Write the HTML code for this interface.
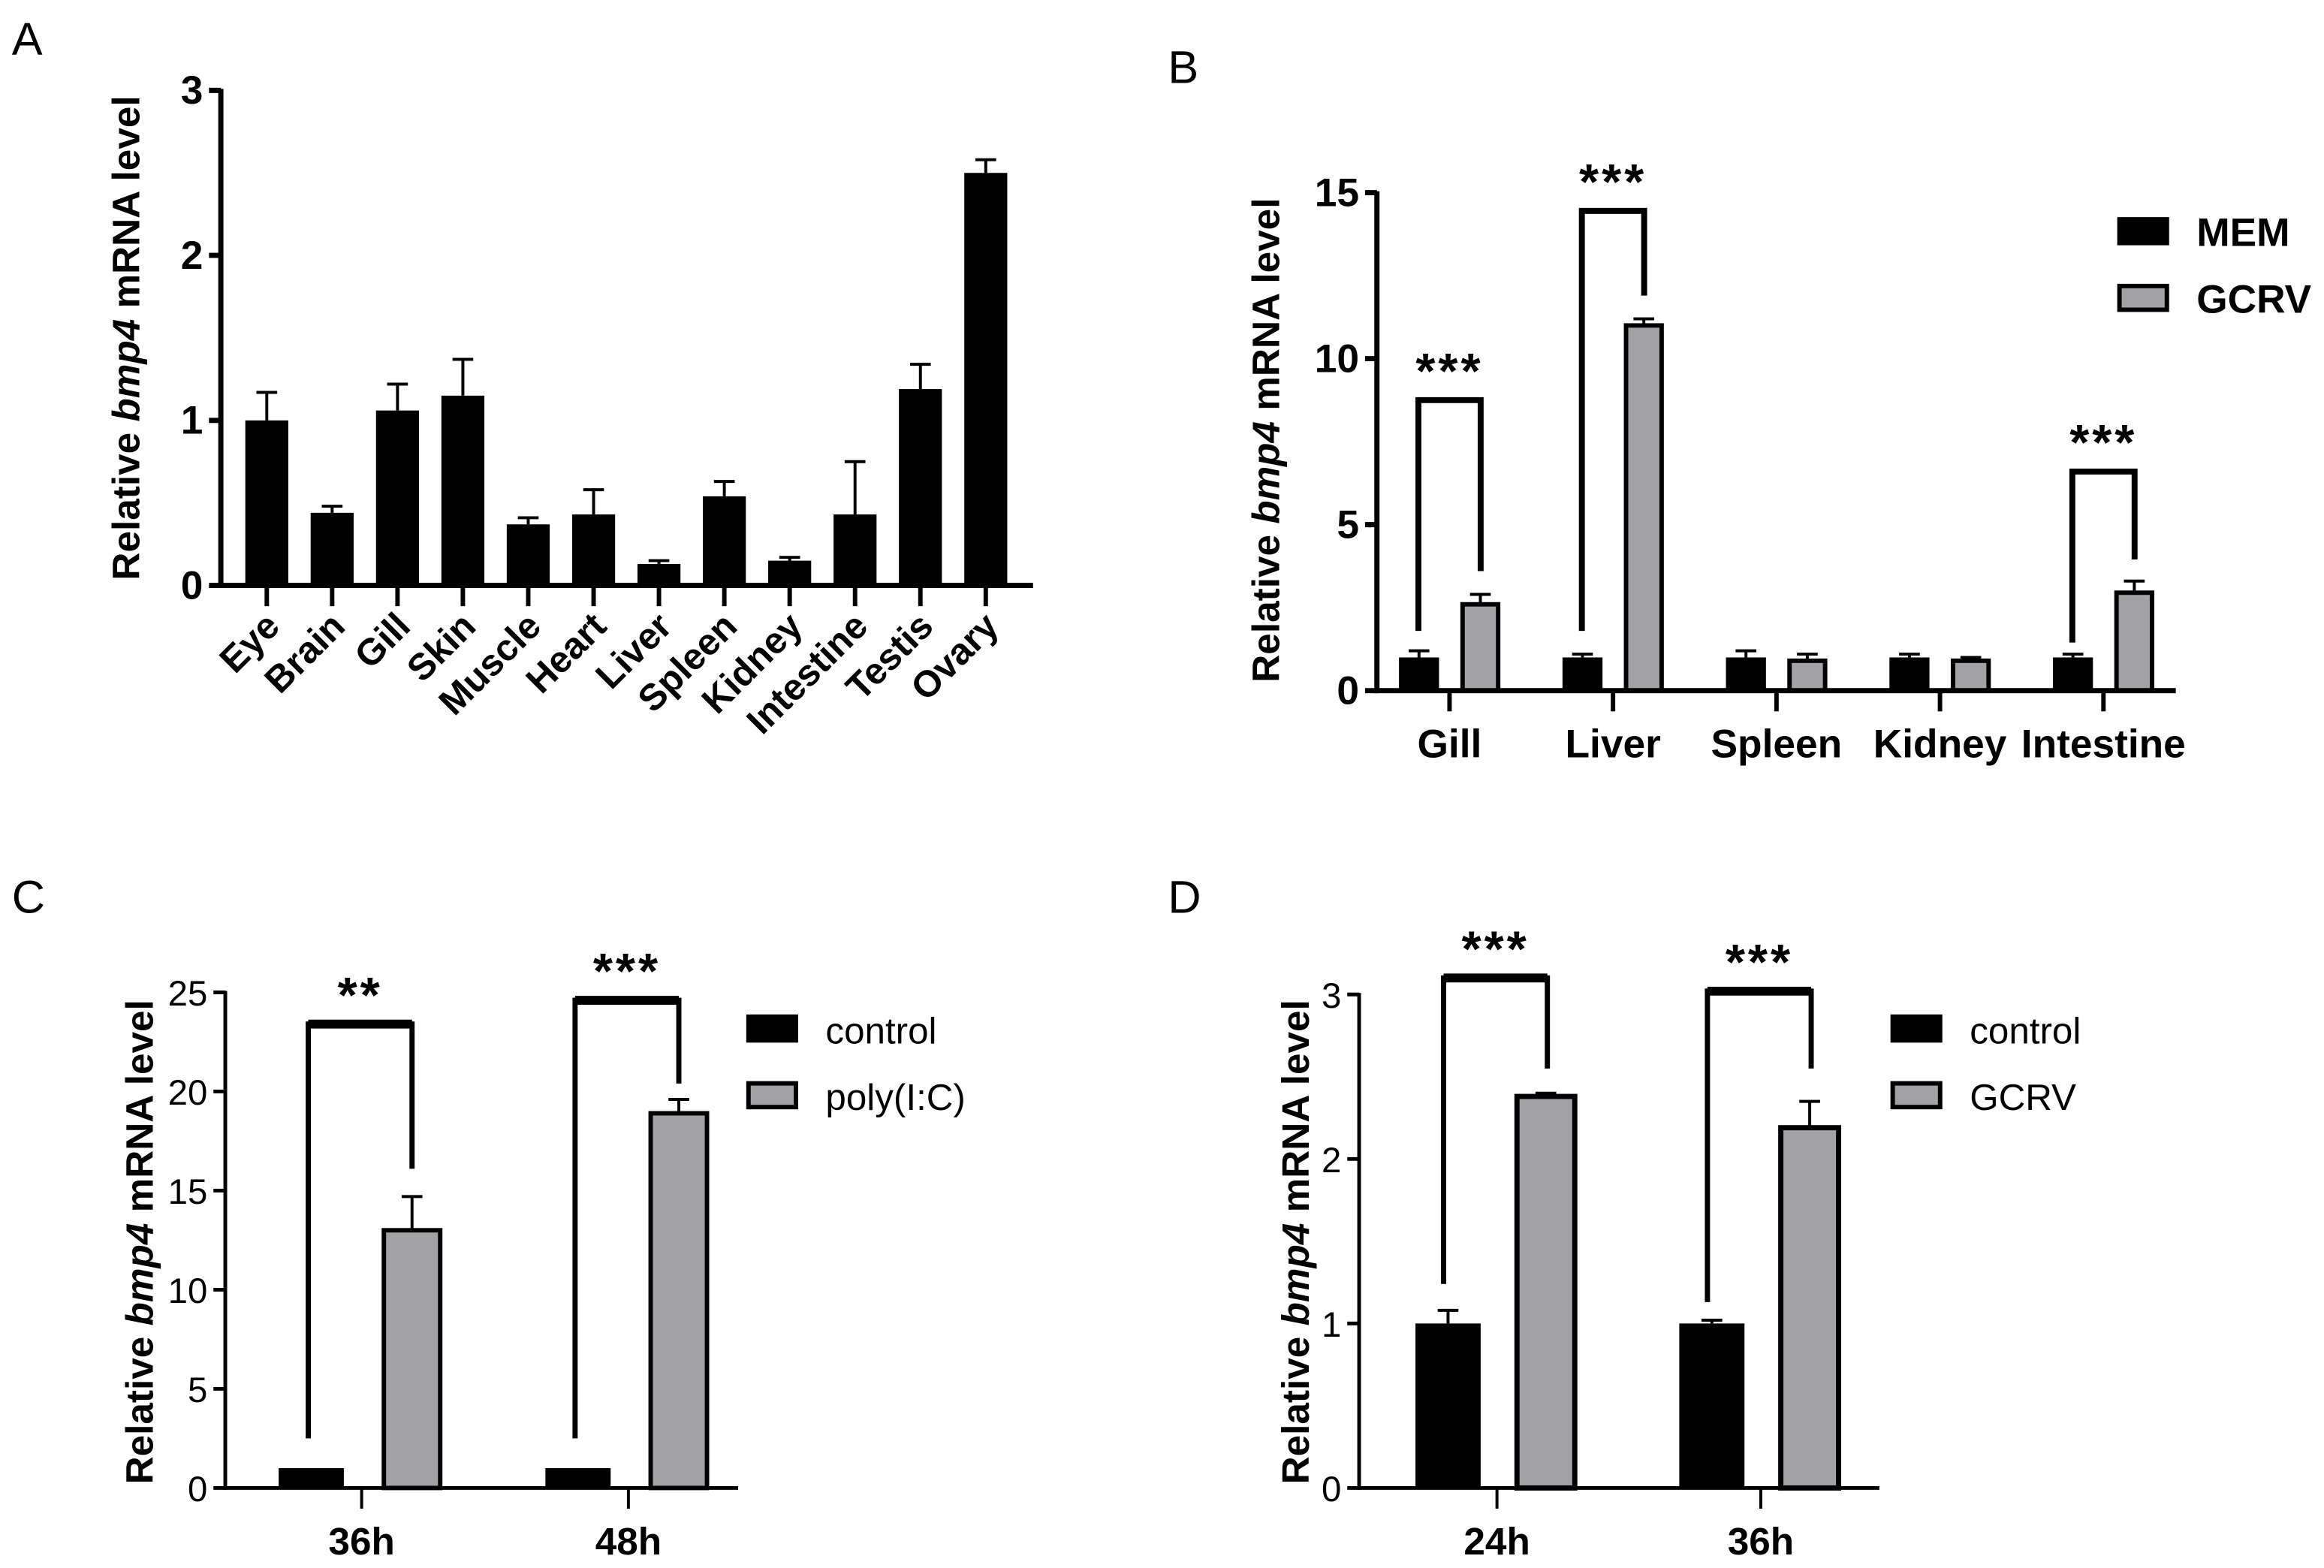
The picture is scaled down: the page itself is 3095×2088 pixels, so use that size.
<!DOCTYPE html>
<html><head><meta charset="utf-8"><style>
html,body{margin:0;padding:0;background:#fff;}
svg{display:block;font-family:"Liberation Sans",Arial,sans-serif;}
</style></head><body>
<svg id="fig" width="3095" height="2088" viewBox="0 0 1568 1058" preserveAspectRatio="none" xmlns="http://www.w3.org/2000/svg">
<text x="8" y="37" font-size="31">A</text>
<text x="788" y="56" font-size="31">B</text>
<text x="8" y="616" font-size="31">C</text>
<text x="788" y="616" font-size="31">D</text>
</svg>
<script>
// Panel A data
const aCategories=["Eye","Brain","Gill","Skin","Muscle","Heart","Liver","Spleen","Kidney","Intestine","Testis","Ovary"];
const aValues=[1.0,0.44,1.06,1.15,0.37,0.43,0.13,0.54,0.15,0.43,1.19,2.5];
const aErrors=[1.17,0.48,1.22,1.37,0.41,0.58,0.15,0.63,0.17,0.75,1.34,2.58];
const aTicks=[0,1,2,3];
// Panel B data
const bCategories=["Gill","Liver","Spleen","Kidney","Intestine"];
const bMem=[1.0,1.0,1.0,1.0,1.0];
const bMemErr=[1.2,1.1,1.2,1.1,1.1];
const bGcrv=[2.6,11.0,0.9,0.9,2.95];
const bGcrvErr=[2.9,11.2,1.1,1.0,3.3];
const bTicks=[0,5,10,15];
const bBracketGroups=[0,1,4];
const bBracketTop=[8.75,14.45,6.6];
const bBracketLeft=[1.8,1.8,1.45];
const bBracketRight=[3.6,11.9,3.95];
const bStars=["***","***","***"];
// Panel C data
const cCategories=["36h","48h"];
const cControl=[1.0,1.0];
const cControlErr=[1.0,1.0];
const cPoly=[13.0,18.9];
const cPolyErr=[14.7,19.6];
const cTicks=[0,5,10,15,20,25];
const cBracketTop=[23.4,24.6];
const cBracketLeft=[2.5,2.5];
const cBracketRight=[16.1,20.4];
const cStars=["**","***"];
// Panel D data
const dCategories=["24h","36h"];
const dControl=[1.0,1.0];
const dControlErr=[1.08,1.02];
const dGcrv=[2.38,2.19];
const dGcrvErr=[2.40,2.35];
const dTicks=[0,1,2,3];
const dBracketTop=[3.1,3.02];
const dBracketLeft=[1.24,1.13];
const dBracketRight=[2.55,2.55];
const dStars=["***","***"];

const svg=document.getElementById('fig');
const NS="http://www.w3.org/2000/svg";
function mk(tag,attrs,parent){const e=document.createElementNS(NS,tag);for(const k in attrs)e.setAttribute(k,attrs[k]);(parent||svg).appendChild(e);return e;}
function grp(name){const g=mk('g',{});


return g;}

function axes(g,o,ticks,y,opts){
  const ya=mk('line',{x1:o.x0,y1:y(ticks[ticks.length-1])-1,x2:o.x0,y2:o.y0+opts.aw/2,stroke:'#000','stroke-width':opts.aw},g);
  
  
  const xa=mk('line',{x1:o.x0-opts.aw/2,y1:o.y0,x2:o.x1,y2:o.y0,stroke:'#000','stroke-width':opts.aw},g);
  
  
  ticks.forEach(t=>{
    mk('line',{x1:o.x0-8,y1:y(t),x2:o.x0,y2:y(t),stroke:'#000','stroke-width':opts.aw},g);
    const tx=mk('text',{x:o.x0-12,y:y(t)+9,'font-size':opts.tfs,'font-weight':opts.tfw,'text-anchor':'end'},g);
    tx.textContent=t;
    
    
  });
  const tt=mk('text',{transform:`translate(${opts.tx},${opts.ty}) rotate(-90)`,'font-size':opts.tsz,'font-weight':'bold','text-anchor':'middle'},g);
  tt.innerHTML='Relative <tspan font-style="italic">bmp4</tspan> mRNA level';
  
  
}
function bar(g,cx,w,y0,yv,fill,sw,name){
  const r=mk('rect',{x:cx-w/2,y:Math.min(yv,y0),width:w,height:Math.abs(y0-yv),fill:fill,stroke:'#000','stroke-width':sw},g);
  
  
}
function err(g,cx,yv,ye,cap,sw){
  mk('line',{x1:cx,y1:yv,x2:cx,y2:ye,stroke:'#000','stroke-width':sw},g);
  mk('line',{x1:cx-cap,y1:ye,x2:cx+cap,y2:ye,stroke:'#000','stroke-width':sw},g);
}
function bracket(g,xl,xr,yt,yl,yr,stars,sw,topw){
  const p=mk('path',{d:`M${xl},${yl} L${xl},${yt} L${xr},${yt} L${xr},${yr}`,fill:'none',stroke:'#000','stroke-width':sw},g);
  
  
  if(topw) mk('line',{x1:xl,y1:yt,x2:xr,y2:yt,stroke:'#000','stroke-width':topw},g);
  const s=mk('text',{x:(xl+xr)/2,y:yt-8,'font-size':34,'font-weight':'bold','text-anchor':'middle','letter-spacing':'2'},g);
  s.textContent=stars;
  
  
}
function legend(g,x,y1,y2,labels,fills,fw,fs){
  [y1,y2].forEach((yy,i)=>{
    const r=mk('rect',{x:x,y:yy,width:32,height:16,fill:fills[i],stroke:'#000','stroke-width':3},g);
    
    
    const t=mk('text',{x:x+52,y:yy+18,'font-size':fs,'font-weight':fw},g);
    t.textContent=labels[i];
    
    
  });
}

// ---- Panel A ----
(function(){
  const g=grp('panel-a-chart');
  const o={x0:149,y0:395,x1:697};
  const y=v=>o.y0-v*(334/3);
  const xc=i=>180+i*44.1;
  aValues.forEach((v,i)=>{
    err(g,xc(i),y(v),y(aErrors[i]),7,2);
    bar(g,xc(i),29,o.y0,y(v),'#000',0,'bar-'+aCategories[i].toLowerCase());
  });
  axes(g,o,aTicks,y,{aw:3.5,tfs:27,tfw:'bold',tx:94,ty:228,tsz:26});
  aCategories.forEach((c,i)=>{
    mk('line',{x1:xc(i),y1:o.y0,x2:xc(i),y2:409,stroke:'#000','stroke-width':3},g);
    const t=mk('text',{transform:`translate(${xc(i)+10},${424}) rotate(-45)`,'font-size':25,'font-weight':'bold','text-anchor':'end'},g);
    t.textContent=c;
    
    
  });
})();

// ---- Panel B ----
(function(){
  const g=grp('panel-b-chart');
  const o={x0:929,y0:466,x1:1468};
  const y=v=>o.y0-v*(336/15);
  const gc=i=>978+i*110.3;
  bCategories.forEach((c,i)=>{
    const xm=gc(i)-20.6, xg=gc(i)+20.8;
    err(g,xm,y(bMem[i]),y(bMemErr[i]),7,2);
    bar(g,xm,27,o.y0,y(bMem[i]),'#000',0,'bar-mem-'+c.toLowerCase());
    err(g,xg,y(bGcrv[i]),y(bGcrvErr[i]),7,2);
    bar(g,xg,24,o.y0,y(bGcrv[i]),'#a2a2a6',3,'bar-gcrv-'+c.toLowerCase());
    mk('line',{x1:gc(i),y1:o.y0,x2:gc(i),y2:480,stroke:'#000','stroke-width':3},g);
    const t=mk('text',{x:gc(i),y:511,'font-size':27,'font-weight':'bold','text-anchor':'middle'},g);
    t.textContent=c;
    
    
  });
  axes(g,o,bTicks,y,{aw:3.5,tfs:27,tfw:'bold',tx:863,ty:297,tsz:26});
  bBracketGroups.forEach((gi,k)=>{
    bracket(g,gc(gi)-21,gc(gi)+21,y(bBracketTop[k]),y(bBracketLeft[k]),y(bBracketRight[k]),bStars[k],4);
  });
  legend(g,1430,148,193,['MEM','GCRV'],['#000','#a2a2a6'],'bold',27);
})();

// ---- Panel C ----
(function(){
  const g=grp('panel-c-chart');
  const o={x0:152,y0:1004,x1:498};
  const y=v=>o.y0-v*(334.4/25);
  const gc=i=>244+i*180;
  cCategories.forEach((c,i)=>{
    const xb=gc(i)-34, xg=gc(i)+34;
    bar(g,xb,44,o.y0,y(cControl[i]),'#000',0,'bar-control-'+c);
    err(g,xg,y(cPoly[i]),y(cPolyErr[i]),7,2);
    bar(g,xg,38,o.y0,y(cPoly[i]),'#a2a2a6',3,'bar-polyic-'+c);
    mk('line',{x1:gc(i),y1:o.y0,x2:gc(i),y2:1018,stroke:'#000','stroke-width':2},g);
    const t=mk('text',{x:gc(i),y:1049,'font-size':26,'font-weight':'bold','text-anchor':'middle'},g);
    t.textContent=c;
    
    
    bracket(g,gc(i)-36,gc(i)+34,y(cBracketTop[i]),y(cBracketLeft[i]),y(cBracketRight[i]),cStars[i],3.5,6);
  });
  axes(g,o,cTicks,y,{aw:2.5,tfs:24,tfw:'normal',tx:103,ty:838,tsz:26});
  legend(g,505,686,731,['control','poly(I:C)'],['#000','#a2a2a6'],'normal',25);
})();

// ---- Panel D ----
(function(){
  const g=grp('panel-d-chart');
  const o={x0:917,y0:1004,x1:1268};
  const y=v=>o.y0-v*(333/3);
  const gc=i=>1010+i*178;
  dCategories.forEach((c,i)=>{
    const xb=gc(i)-33, xg=gc(i)+33;
    err(g,xb,y(dControl[i]),y(dControlErr[i]),7,2);
    bar(g,xb,44,o.y0,y(dControl[i]),'#000',0,'bar-control-'+c);
    err(g,xg,y(dGcrv[i]),y(dGcrvErr[i]),7,2);
    bar(g,xg,39,o.y0,y(dGcrv[i]),'#a2a2a6',3.5,'bar-gcrv-'+c);
    mk('line',{x1:gc(i),y1:o.y0,x2:gc(i),y2:1018,stroke:'#000','stroke-width':2},g);
    const t=mk('text',{x:gc(i),y:1049,'font-size':26,'font-weight':'bold','text-anchor':'middle'},g);
    t.textContent=c;
    
    
    bracket(g,gc(i)-36,gc(i)+34,y(dBracketTop[i]),y(dBracketLeft[i]),y(dBracketRight[i]),dStars[i],3.5,6);
  });
  axes(g,o,dTicks,y,{aw:2.5,tfs:24,tfw:'normal',tx:883,ty:838,tsz:26});
  legend(g,1277,686,731,['control','GCRV'],['#000','#a2a2a6'],'normal',25);
})();
</script>
</body></html>
